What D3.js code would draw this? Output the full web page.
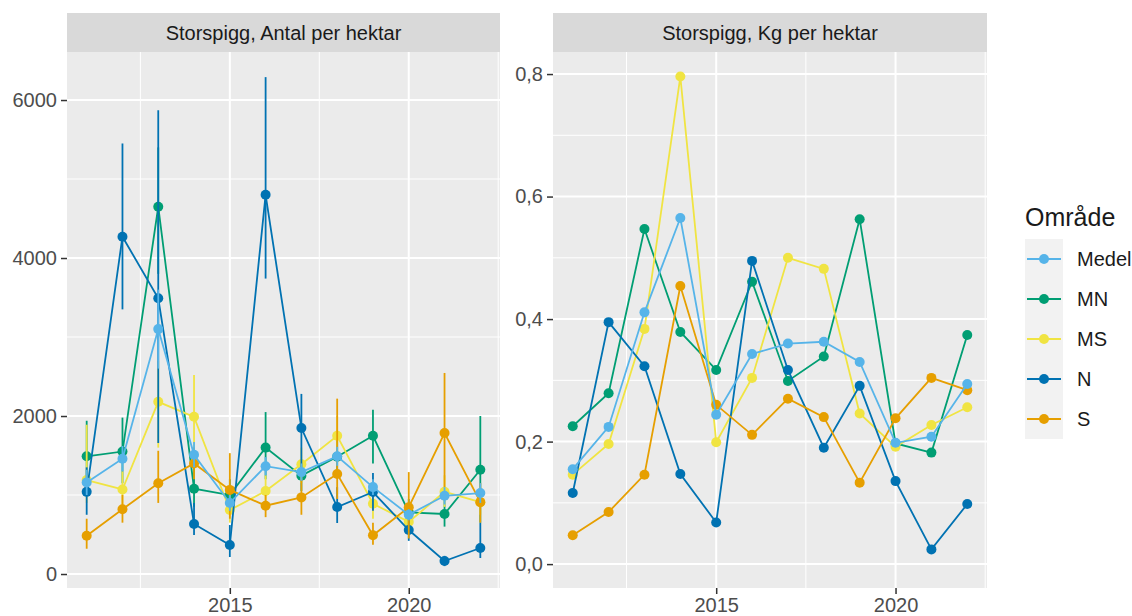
<!DOCTYPE html>
<html>
<head>
<meta charset="utf-8">
<script src="https://cdnjs.cloudflare.com/ajax/libs/d3/7.8.5/d3.min.js"></script>
<style>
  body { margin: 0; background: white; }
  text { font-family: "Liberation Sans", Arial, sans-serif; }
</style>
</head>
<body>
<script>

// data
var years = [2011, 2012, 2013, 2014, 2015, 2016, 2017, 2018, 2019, 2020, 2021, 2022];
var areas = ["Medel", "MN", "MS", "N", "S"];
var areaColors = ["#56B4E9", "#009E73", "#F0E442", "#0072B2", "#E69F00"];

// antal per hektar (with error bars)
var antalMedel = [1160, 1460, 3100, 1510, 900, 1365, 1290, 1490, 1100, 750, 990, 1025];
var antalMedelLo = [1000, 1300, 2600, 1350, 800, 1250, 1180, 1370, 1000, 680, 880, 900];
var antalMedelHi = [1320, 1620, 3600, 1670, 1000, 1480, 1400, 1610, 1200, 820, 1100, 1150];

var antalMN = [1490, 1550, 4650, 1080, 1000, 1600, 1245, 1485, 1750, 780, 760, 1320];
var antalMNLo = [1050, 1150, 3800, 850, 800, 1200, 1050, 1250, 1400, 650, 600, 650];
var antalMNHi = [1940, 1980, 5400, 1350, 1200, 2050, 1450, 1750, 2080, 950, 950, 2000];

var antalMS = [1190, 1070, 2180, 1990, 810, 1050, 1390, 1750, 890, 660, 1040, 910];
var antalMSLo = [900, 850, 1600, 1500, 650, 850, 1150, 1450, 700, 550, 850, 750];
var antalMSHi = [1890, 1300, 2700, 2520, 1000, 1250, 1600, 2000, 1100, 800, 1250, 1100];

var antalN = [1040, 4270, 3490, 633, 367, 4800, 1848, 848, 1038, 557, 165, 329];
var antalNLo = [750, 3350, 1660, 494, 215, 3740, 1350, 646, 800, 420, 100, 203];
var antalNHi = [1350, 5450, 5870, 900, 620, 6290, 2280, 1100, 1280, 700, 230, 650];

var antalS = [485, 820, 1150, 1400, 1065, 865, 970, 1265, 490, 845, 1785, 910];
var antalSLo = [320, 650, 900, 1200, 700, 720, 750, 950, 370, 450, 1100, 650];
var antalSHi = [700, 1000, 1560, 1600, 1530, 1000, 1200, 2220, 650, 1290, 2545, 1150];

// kg per hektar
var kgMedel = [0.155, 0.224, 0.411, 0.565, 0.244, 0.343, 0.360, 0.363, 0.330, 0.198, 0.208, 0.294];
var kgMN = [0.225, 0.279, 0.547, 0.379, 0.317, 0.461, 0.299, 0.339, 0.563, 0.197, 0.182, 0.374];
var kgMS = [0.146, 0.196, 0.384, 0.796, 0.199, 0.304, 0.500, 0.482, 0.246, 0.1915, 0.227, 0.256];
var kgN = [0.116, 0.395, 0.323, 0.147, 0.068, 0.495, 0.317, 0.190, 0.291, 0.1355, 0.024, 0.098];
var kgS = [0.047, 0.085, 0.146, 0.454, 0.260, 0.211, 0.270, 0.240, 0.133, 0.238, 0.304, 0.284];

var xTicks = [2015, 2020];
var xMinor = [2012.5, 2017.5, 2022.5];
var antalTicks = [0, 2000, 4000, 6000];
var antalMinor = [1000, 3000, 5000];
var kgTicks = [0, 0.2, 0.4, 0.6, 0.8];
var kgMinor = [0.1, 0.3, 0.5, 0.7];

var panelTitles = ["Storspigg, Antal per hektar", "Storspigg, Kg per hektar"];
var legendTitle = "Område";

////////////////////////////////////////

var W = 1132, H = 616;
var stripTop = 13, panelTop = 52, panelBottom = 588;
var fontSize = 20;

var svg = d3.select("body").append("svg")
  .attr("width", W)
  .attr("height", H);

svg.append("rect").attr("x", 0).attr("y", 0).attr("width", W).attr("height", H).style("fill", "white");

var color = d3.scaleOrdinal().domain(areas).range(areaColors);

var antalSeries = [
  {area: "Medel", v: antalMedel, lo: antalMedelLo, hi: antalMedelHi},
  {area: "MN", v: antalMN, lo: antalMNLo, hi: antalMNHi},
  {area: "MS", v: antalMS, lo: antalMSLo, hi: antalMSHi},
  {area: "N", v: antalN, lo: antalNLo, hi: antalNHi},
  {area: "S", v: antalS, lo: antalSLo, hi: antalSHi}
];
var kgSeries = [
  {area: "Medel", v: kgMedel},
  {area: "MN", v: kgMN},
  {area: "MS", v: kgMS},
  {area: "N", v: kgN},
  {area: "S", v: kgS}
];

// draw one facet
var draw_panel = function(x0, x1, title, yDomain, yTicks, yMinor, yFormat, series, withErr) {

  var x = d3.scaleLinear().domain([2010.45, 2022.55]).range([x0, x1]);
  var y = d3.scaleLinear().domain(yDomain).range([panelBottom, panelTop]);

  var g = svg.append("g");

  // strip
  g.append("rect")
    .attr("x", x0).attr("y", stripTop).attr("width", x1 - x0).attr("height", panelTop - stripTop)
    .style("fill", "#D9D9D9");
  g.append("text")
    .attr("x", (x0 + x1) / 2).attr("y", (stripTop + panelTop) / 2)
    .attr("dy", "0.35em")
    .attr("text-anchor", "middle")
    .style("font-size", fontSize + "px")
    .style("fill", "#1A1A1A")
    .text(title);

  // panel bg
  g.append("rect")
    .attr("x", x0).attr("y", panelTop).attr("width", x1 - x0).attr("height", panelBottom - panelTop)
    .style("fill", "#EBEBEB");

  // grid
  g.selectAll(".ymin").data(yMinor).enter().append("line")
    .attr("x1", x0).attr("x2", x1).attr("y1", function(d){ return y(d); }).attr("y2", function(d){ return y(d); })
    .style("stroke", "white").style("stroke-width", 1);
  g.selectAll(".xmin").data(xMinor).enter().append("line")
    .attr("y1", panelTop).attr("y2", panelBottom).attr("x1", function(d){ return x(d); }).attr("x2", function(d){ return x(d); })
    .style("stroke", "white").style("stroke-width", 1);
  g.selectAll(".ymaj").data(yTicks).enter().append("line")
    .attr("x1", x0).attr("x2", x1).attr("y1", function(d){ return y(d); }).attr("y2", function(d){ return y(d); })
    .style("stroke", "white").style("stroke-width", 2);
  g.selectAll(".xmaj").data(xTicks).enter().append("line")
    .attr("y1", panelTop).attr("y2", panelBottom).attr("x1", function(d){ return x(d); }).attr("x2", function(d){ return x(d); })
    .style("stroke", "white").style("stroke-width", 2);

  // axes
  var yAxis = d3.axisLeft(y).tickValues(yTicks).tickSize(6).tickPadding(4).tickFormat(yFormat);
  var ya = g.append("g").attr("transform", "translate(" + x0 + ",0)").call(yAxis);
  var xAxis = d3.axisBottom(x).tickValues(xTicks).tickSize(6).tickPadding(4).tickFormat(d3.format("d"));
  var xa = g.append("g").attr("transform", "translate(0," + panelBottom + ")").call(xAxis);
  [ya, xa].forEach(function(a) {
    a.select(".domain").remove();
    a.selectAll(".tick line").style("stroke", "#333333").style("stroke-width", 1.5);
    a.selectAll(".tick text").style("font-size", fontSize + "px").style("fill", "#4D4D4D")
      .style("font-family", "'Liberation Sans', Arial, sans-serif");
  });

  // medel goes on top, the rest in legend order
  var order = series.slice(1).concat([series[0]]);

  var line = d3.line()
    .x(function(d, i){ return x(years[i]); })
    .y(function(d){ return y(d); });

  order.forEach(function(s) {
    var sg = g.append("g");
    if (withErr) {
      sg.selectAll(".err").data(years).enter().append("line")
        .attr("x1", function(d){ return x(d); }).attr("x2", function(d){ return x(d); })
        .attr("y1", function(d, i){ return y(s.lo[i]); })
        .attr("y2", function(d, i){ return y(s.hi[i]); })
        .style("stroke", color(s.area)).style("stroke-width", 1.8);
    }
    sg.append("path").datum(s.v)
      .attr("d", line)
      .style("fill", "none").style("stroke", color(s.area)).style("stroke-width", 1.8);
    sg.selectAll(".pt").data(s.v).enter().append("circle")
      .attr("cx", function(d, i){ return x(years[i]); })
      .attr("cy", function(d){ return y(d); })
      .attr("r", 5)
      .style("fill", color(s.area));
  });
};

var kgFormat = function(d){ return d3.format(".1f")(d).replace(".", ","); };

draw_panel(67, 500, panelTitles[0], [-177, 6608], antalTicks, antalMinor, d3.format("d"), antalSeries, true);
draw_panel(553, 987, panelTitles[1], [-0.039, 0.836], kgTicks, kgMinor, kgFormat, kgSeries, false);

// legend
var leg = svg.append("g");
leg.append("text")
  .attr("x", 1025).attr("y", 226)
  .style("font-size", "25px")
  .style("fill", "#1A1A1A")
  .text(legendTitle);

var keyH = 40;
leg.selectAll(".key").data(areas).enter().append("rect")
  .attr("x", 1025).attr("y", function(d, i){ return 239 + i * keyH; })
  .attr("width", 38).attr("height", keyH)
  .style("fill", "#F2F2F2");
leg.selectAll(".kl").data(areas).enter().append("line")
  .attr("x1", 1027).attr("x2", 1061)
  .attr("y1", function(d, i){ return 259 + i * keyH; })
  .attr("y2", function(d, i){ return 259 + i * keyH; })
  .style("stroke", function(d){ return color(d); }).style("stroke-width", 2);
leg.selectAll(".kp").data(areas).enter().append("circle")
  .attr("cx", 1044).attr("cy", function(d, i){ return 259 + i * keyH; })
  .attr("r", 5).style("fill", function(d){ return color(d); });
leg.selectAll(".lt").data(areas).enter().append("text")
  .attr("x", 1077).attr("y", function(d, i){ return 259 + i * keyH; })
  .attr("dy", "0.35em")
  .style("font-size", fontSize + "px")
  .style("fill", "#1A1A1A")
  .text(function(d){ return d; });

</script>
</body>
</html>
